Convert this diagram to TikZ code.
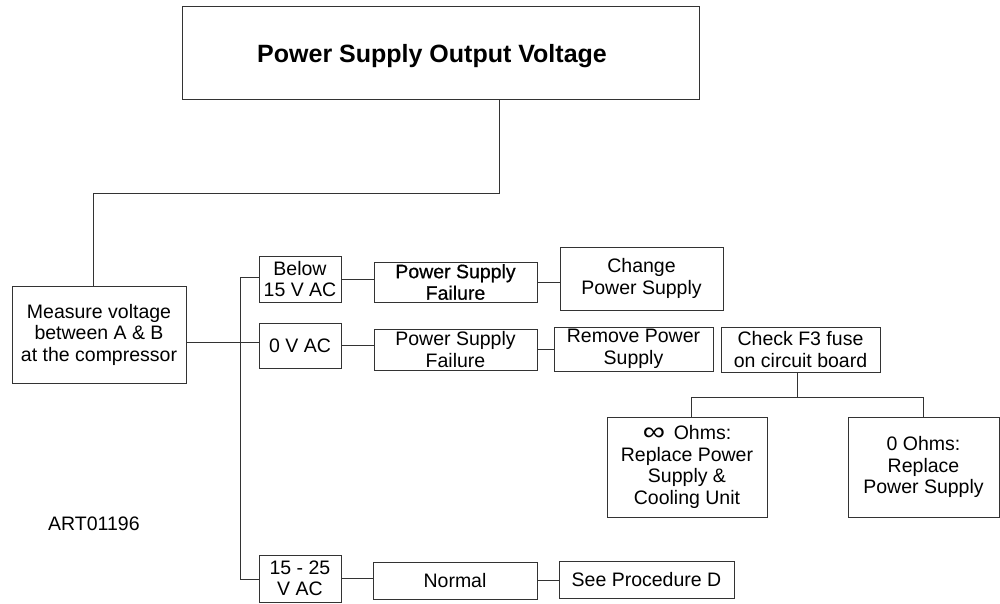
\documentclass[tikz,border=0pt]{standalone}
\usepackage{fontspec}
\setmainfont{Liberation Sans}
\newfontfamily\heavyish[FakeBold=0.6]{Liberation Sans}
\begin{document}
\begin{tikzpicture}[x=1pt,y=-1pt,
  box/.style={draw=black!80, line width=0.9pt, fill=white, inner sep=0pt, align=center,
    font=\fontsize{19.5}{21.5}\selectfont},
  conn/.style={draw=black!80, line width=0.9pt},
  plain/.style={inner sep=0pt, font=\fontsize{19.5}{21}\selectfont}]
\useasboundingbox (0,0) rectangle (1000,604);
% boxes
\node[box, minimum width=517pt, minimum height=93pt] (title) at (440.5,52.5) {};
\node[inner sep=0pt, font=\fontsize{25}{28}\selectfont\bfseries] (titletext) at (432,56) {Power Supply Output Voltage};
\node[box, minimum width=174pt, minimum height=97pt] (measure) at (99,334.5) {Measure voltage\\between A \& B\\at the compressor};
\node[box, minimum width=82pt, minimum height=46pt] (below) at (300,279) {Below\\15 V AC};
\node[box, minimum width=82pt, minimum height=45pt] (zero) at (300,345.5) {0 V AC};
\node[box, minimum width=82pt, minimum height=47pt] (range) at (300,578.5) {15 - 25\\V AC};
\node[box, minimum width=163pt, minimum height=40pt] (psf1) at (455.5,282) {\heavyish Power Supply\\\heavyish Failure};
\node[box, minimum width=163pt, minimum height=63pt] (change) at (641.5,278.5) {Change\\Power Supply};
\node[box, minimum width=163pt, minimum height=41pt] (psf2) at (455.5,349.5) {Power Supply\\Failure};
\node[box, minimum width=159pt, minimum height=44pt] (remove) at (633.5,349) {Remove Power\\Supply};
\node[box, minimum width=159pt, minimum height=45pt] (check) at (800.5,349.5) {Check F3 fuse\\on circuit board};
\node[box, minimum width=160pt, minimum height=100pt] (inf) at (687,467) {\raisebox{-1pt}{\scalebox{1.6}[1.35]{∞}}\, Ohms:\\Replace Power\\Supply \&\\Cooling Unit};
\node[box, minimum width=151pt, minimum height=100pt] (zeroohm) at (923.5,467) {0 Ohms:\\Replace\\Power Supply};
\node[box, minimum width=164pt, minimum height=37pt] (normal) at (455,580.5) {Normal};
\node[box, minimum width=175pt, minimum height=37pt] (seeproc) at (646.5,579.5) {See Procedure D};
\node[plain, anchor=west] (art) at (48,524) {ART01196};
% connectors
\coordinate (drop) at (499,193);
\draw[conn] (title.south -| drop) -- (drop) -| ([xshift=-6pt]measure.north);
\coordinate (bustop) at (240,277);
\coordinate (busbot) at (240,579);
\draw[conn] (below.west |- bustop) -- (bustop) -- (busbot) -- (range.west |- busbot);
\draw[conn] (measure.east |- 0,342) -- (zero.west |- 0,342);
\draw[conn] (below.east) -- (psf1.west |- below.east);
\draw[conn] (psf1.east) -- (change.west |- psf1.east);
\draw[conn] (zero.east) -- (psf2.west |- zero.east);
\draw[conn] (psf2.east) -- (remove.west |- psf2.east);
\coordinate (split) at (797,397);
\draw[conn] (check.south -| split) -- (split);
\draw[conn] ([xshift=4pt]inf.north) |- (split);
\draw[conn] (zeroohm.north) |- (split);
\draw[conn] (range.east) -- (normal.west |- range.east);
\draw[conn] (normal.east) -- (seeproc.west |- normal.east);
\end{tikzpicture}
\end{document}
